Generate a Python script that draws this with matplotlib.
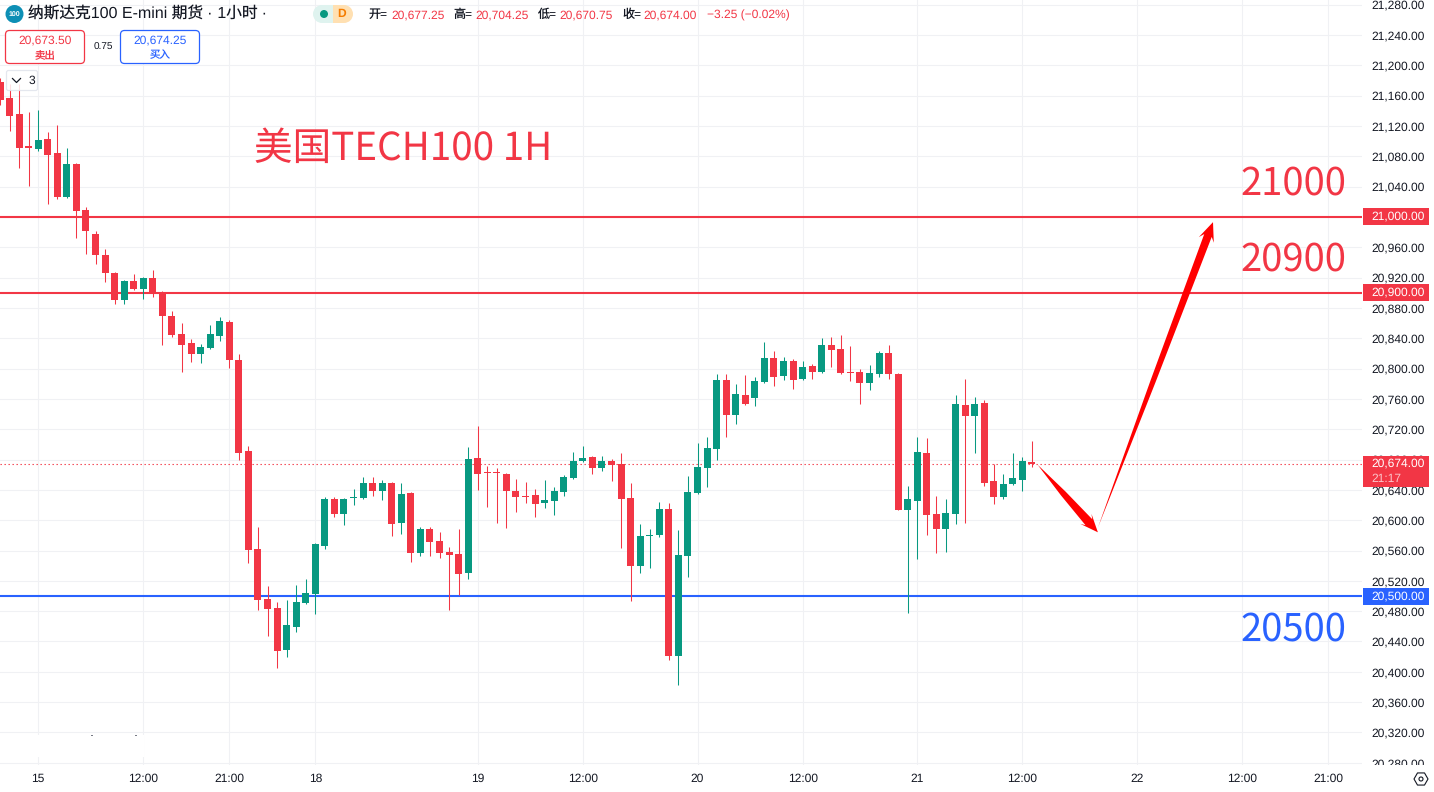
import matplotlib
matplotlib.use("Agg")
import matplotlib.pyplot as plt
import numpy as np
from matplotlib.patches import Rectangle, FancyBboxPatch, Polygon, Circle, RegularPolygon
from matplotlib.transforms import IdentityTransform, Bbox

plt.rcParams['font.family'] = ['Liberation Sans', 'Noto Sans CJK SC', 'DejaVu Sans']
plt.rcParams['text.hinting'] = 'no_hinting'
plt.rcParams['text.hinting_factor'] = 1

opens = [21178,21157,21136,21093,21090,21103,21084,21026,21070,21009,
         20977,20950,20926,20890,20915,20905,20919,20901,20869,20846,
         20834,20819,20827,20843,20861,20811,20691,20562,20496,20484,
         20429,20459,20491,20503,20566,20628,20608,20630,20629,20649,
         20639,20649,20596,20636,20557,20588,20573,20558,20555,20530,
         20682,20664,20663,20661,20639,20632.5,20633,20623,20625,20637,
         20656,20678,20683,20669,20678,20674,20629,20540,20580,20580,
         20615,20421,20553,20636,20669,20694,20785,20739,20765,20761,
         20782,20814,20790,20810,20786,20803,20795,20831,20826,20796,
         20795,20781,20793,20820,20793,20613,20625,20689,20608,20588,
         20608,20752,20737,20755,20652,20631,20648,20653,20677.25]
closes = [21154,21133,21091,21091,21101,21082,21026,21070,21008,20981,
          20950,20926,20890,20915,20905,20919,20898,20869,20844,20831,
          20819,20828,20846,20863,20811,20689,20561,20495,20483,20427,
          20462,20492,20504,20569,20628,20608,20628,20631,20649,20639,
          20649,20595,20635,20557,20588,20571,20557,20554,20529,20681,
          20661,20663,20662,20639,20631,20632,20621,20627,20639,20657,
          20678,20682,20669,20678,20673,20628,20540,20579,20581,20615,
          20421,20554,20637,20670,20695,20785,20739,20766,20753,20784,
          20814,20789,20810,20785,20802,20795,20831,20824,20794,20795,
          20781,20794,20820,20793,20613,20628,20690,20607,20588,20609,
          20753,20737,20753,20649,20631,20648,20656,20678,20674]
highs = [21183,21175,21175,21138,21141,21112,21121,21091,21071,21013,
         20981,20958,20927,20917,20925,20921,20930,20902,20876,20860,
         20839,20832,20857,20868,20864,20819,20698,20591,20513,20492,
         20495,20514,20522,20570,20631,20631,20629,20641,20657,20657,
         20653,20650,20649,20637,20591,20591,20584,20565,20588,20697,
         20724,20671,20669,20662,20654,20650,20641,20653,20644,20660,
         20690,20698,20685,20685,20681,20689,20649,20595,20588,20624,
         20623,20587,20658,20702,20710,20793,20793,20780,20791,20789,
         20835,20823,20815,20812,20810,20806,20840,20842,20844,20830,
         20799,20805,20823,20831,20794,20645,20710,20708,20632,20628,
         20765,20786,20762,20758,20674,20661,20689,20683,20704.25]
lows = [21148,21113,21064,21041,21087,21017,21024,21025,20972,20951,
        20938,20914,20885,20885,20904,20892,20894,20831,20842,20795,
        20809,20807,20826,20836,20801,20679,20544,20482,20447,20405,
        20420,20452,20490,20476,20562,20604,20594,20620,20628,20632,
        20627,20579,20582,20545,20553,20553,20550,20482,20501,20522,
        20640,20617,20596,20590,20611,20623,20604,20616,20607,20632,
        20654,20677,20661,20665,20652,20563,20493,20530,20537,20578,
        20416,20383,20525,20635,20644,20679,20710,20727,20752,20751,
        20781,20777,20785,20773,20785,20786,20794,20802,20793,20784,
        20753,20772,20789,20786,20613,20478,20549,20580,20557,20558,
        20595,20596,20689,20645,20621,20628,20647,20639,20670.75]

time_pos = [4, 15, 24, 33, 50, 61, 73, 84, 96, 107, 119, 130, 139]
time_labels = ['15', '12:00', '21:00', '18', '19', '12:00', '20', '12:00', '21', '12:00', '22', '12:00', '21:00']
price_ticks = list(range(20280, 21281, 40))

level_prices = [21000, 20900, 20500]
level_labels = ['21,000.00', '20,900.00', '20,500.00']
last_price = 20674
last_label = '20,674.00'
countdown = '21:17'

# drawn arrows: tail index, tail price, tip index, tip price
arrow_down = (108.6, 20673, 114.9, 20584)
arrow_up = (114.9, 20590, 126.95, 20993)

RED = '#f23645'
GREEN = '#089981'
BLUE = '#2962ff'
DARK = '#131722'
GRID = '#f0f1f4'
W, H = 1434, 792
PLOT_W, PLOT_H = 1362, 765
BAR_PX = 9.555
PX_PRICE = 1.3187

fig = plt.figure(figsize=(W / 100, H / 100), dpi=100, facecolor='white')
ax = fig.add_axes([0, (H - PLOT_H) / H, PLOT_W / W, PLOT_H / H])
ax.set_xlim(0, PLOT_W / BAR_PX)
ax.set_ylim(20500 + (596 - PLOT_H) * PX_PRICE, 20500 + 596 * PX_PRICE)
for s in ax.spines.values():
    s.set_visible(False)

ax.set_axisbelow(True)
ax.grid(True, color=GRID, lw=0.8)
ax.yaxis.tick_right()
ax.set_yticks(price_ticks)
ax.set_yticklabels([f'{v:,.2f}' for v in price_ticks], fontsize=8.7, color=DARK)
ax.tick_params(axis='y', length=0, pad=6.5)
ax.set_xticks(time_pos)
ax.set_xticklabels(time_labels, fontsize=8.7, color=DARK)
ax.tick_params(axis='x', length=0, pad=6)
for lbl in ax.get_yticklabels():
    lbl.set_verticalalignment('center_baseline')
# bottom price label is cut by the time scale
ax.get_yticklabels()[0].set_clip_box(Bbox([[PLOT_W, H - PLOT_H], [W, H]]))
ax.get_yticklabels()[0].set_clip_on(True)

# level lines
for p, c in zip(level_prices, [RED, RED, BLUE]):
    ax.axhline(p, color=c, lw=1.5, zorder=2)
ax.axhline(last_price, color=RED, lw=0.8, ls=(0, (1.2, 2.4)), zorder=2)

# candles
x = np.arange(len(opens))
o = np.array(opens)
c = np.array(closes)
cols = [GREEN if b > a else RED for a, b in zip(o, c)]
wicks = ax.vlines(x, lows, highs, colors=cols, lw=0.75, zorder=3)
wicks.set_snap(True)
tops = np.maximum(o, c)
heights = np.maximum(np.abs(c - o), 1.4)
ax.bar(x, heights, bottom=tops - heights, width=7 / BAR_PX, color=cols, lw=0, zorder=4)


def px_text(px, py, s, **kw):
    kw.setdefault('va', 'center')
    kw.setdefault('fontsize', 8.7)
    kw.setdefault('color', DARK)
    return fig.text(px / W, 1 - py / H, s, zorder=10, **kw)


def add_px(patch):
    patch.set_transform(IdentityTransform())
    patch.set_zorder(9)
    fig.add_artist(patch)
    return patch


def round_box(px, py, w, h, edge, face='white', r=4, lw=0.9, alpha=None):
    add_px(FancyBboxPatch((px, H - py - h), w, h, boxstyle=f'round,pad=0,rounding_size={r}',
                          ec=edge, fc=face, lw=lw, alpha=alpha))


def arrow(spec, head_len, head_w, shaft_w):
    # thin tail growing into the head, in screen pixels
    a = ax.transData.transform(spec[:2])
    b = ax.transData.transform(spec[2:])
    d = (b - a) / np.hypot(*(b - a))
    n = np.array([-d[1], d[0]])
    base = b - d * head_len
    neck = b - d * head_len * 0.75
    mid = a + (neck - a) * 0.5
    pts = [a, mid + n * shaft_w * 0.33, neck + n * shaft_w / 2, base + n * head_w / 2, b,
           base - n * head_w / 2, neck - n * shaft_w / 2, mid - n * shaft_w * 0.33]
    ax.add_patch(Polygon(pts, closed=True, transform=IdentityTransform(), fc='#ff0000', ec='none', zorder=6))


arrow(arrow_down, 18, 15, 9)
arrow(arrow_up, 19, 16, 8)

# price scale tags
for p, lab, col in zip(level_prices, level_labels, [RED, RED, BLUE]):
    py = 596 - (p - 20500) / PX_PRICE
    add_px(Rectangle((1363, H - py - 8.5), 66, 17, fc=col, ec='none'))
    px_text(1371, py, lab, color='white')
add_px(Rectangle((1363, H - 487), 66, 31, fc=RED, ec='none'))
px_text(1371, 463.5, last_label, color='white')
px_text(1371, 479, countdown, color='#fbc4c9')

# big labels
cjk = ['Noto Sans CJK SC', 'DejaVu Sans']
px_text(254, 149, '美国TECH100 1H', fontsize=27.8, color=RED, family=cjk)
px_text(1346, 184, '21000', fontsize=27.5, color=RED, ha='right', family=cjk)
px_text(1346, 260, '20900', fontsize=27.5, color=RED, ha='right', family=cjk)
px_text(1346, 630, '20500', fontsize=27.5, color=BLUE, ha='right', family=cjk)

# header
add_px(Circle((14.5, H - 14), 9, fc='#0d8fb5', ec='none'))
px_text(14.5, 14, '100', fontsize=5.2, color='white', ha='center', fontweight='bold')
px_text(28, 14, '纳斯达克100 E-mini 期货 · 1小时 ·', fontsize=11.3)
add_px(Rectangle((322, H - 23), 11, 18, fc='#dff3ef', ec='none'))
add_px(Circle((322, H - 14), 9, fc='#dff3ef', ec='none'))
add_px(Rectangle((333, H - 23), 11, 18, fc='#ffe0b2', ec='none'))
add_px(Circle((344, H - 14), 9, fc='#ffe0b2', ec='none'))
add_px(Circle((324, H - 14), 4, fc=GREEN, ec='none'))
px_text(342, 14, 'D', fontsize=8.7, color='#f57c00', ha='center', fontweight='bold')

px_text(369, 15, '开=')
px_text(391, 15, '20,677.25', color=RED)
px_text(453, 15, '高=')
px_text(475, 15, '20,704.25', color=RED)
px_text(538, 15, '低=')
px_text(559, 15, '20,670.75', color=RED)
px_text(622, 15, '收=')
px_text(643, 15, '20,674.00', color=RED)
px_text(707, 15, '−3.25 (−0.02%)', color=RED)

round_box(5.5, 30.5, 79, 33, RED)
px_text(45, 40.5, '20,673.50', color=RED, ha='center')
px_text(45, 55, '卖出', color=RED, ha='center', fontsize=7.5)
px_text(103, 47, '0.75', ha='center', fontsize=7)
round_box(120.5, 30.5, 79, 33, BLUE)
px_text(160, 40.5, '20,674.25', color=BLUE, ha='center')
px_text(160, 55, '买入', color=BLUE, ha='center', fontsize=7.5)

round_box(6.5, 70.5, 31, 20, '#e0e3eb', face='white', r=2, alpha=0.85)
fig.add_artist(plt.Line2D([12.5, 16.5, 20.5], [H - 78.5, H - 82.5, H - 78.5], color=DARK, lw=0.9,
                          transform=IdentityTransform(), zorder=10))
px_text(29, 80.5, '3')

# leftover patch near the bottom left with its two specks, and the settings icon
add_px(Rectangle((0, H - 757), 144, 22, fc='white', ec='none'))
add_px(Rectangle((91, H - 736), 1.5, 1, fc='#787b86', ec='none'))
add_px(Rectangle((135, H - 736), 1.5, 1, fc='#787b86', ec='none'))
add_px(RegularPolygon((1421, H - 779), 6, radius=7, orientation=np.pi / 6, fc='white', ec=DARK, lw=0.8))
add_px(Circle((1421, H - 779), 2, fc='white', ec=DARK, lw=0.8))

fig.savefig('out.png', dpi=100)
